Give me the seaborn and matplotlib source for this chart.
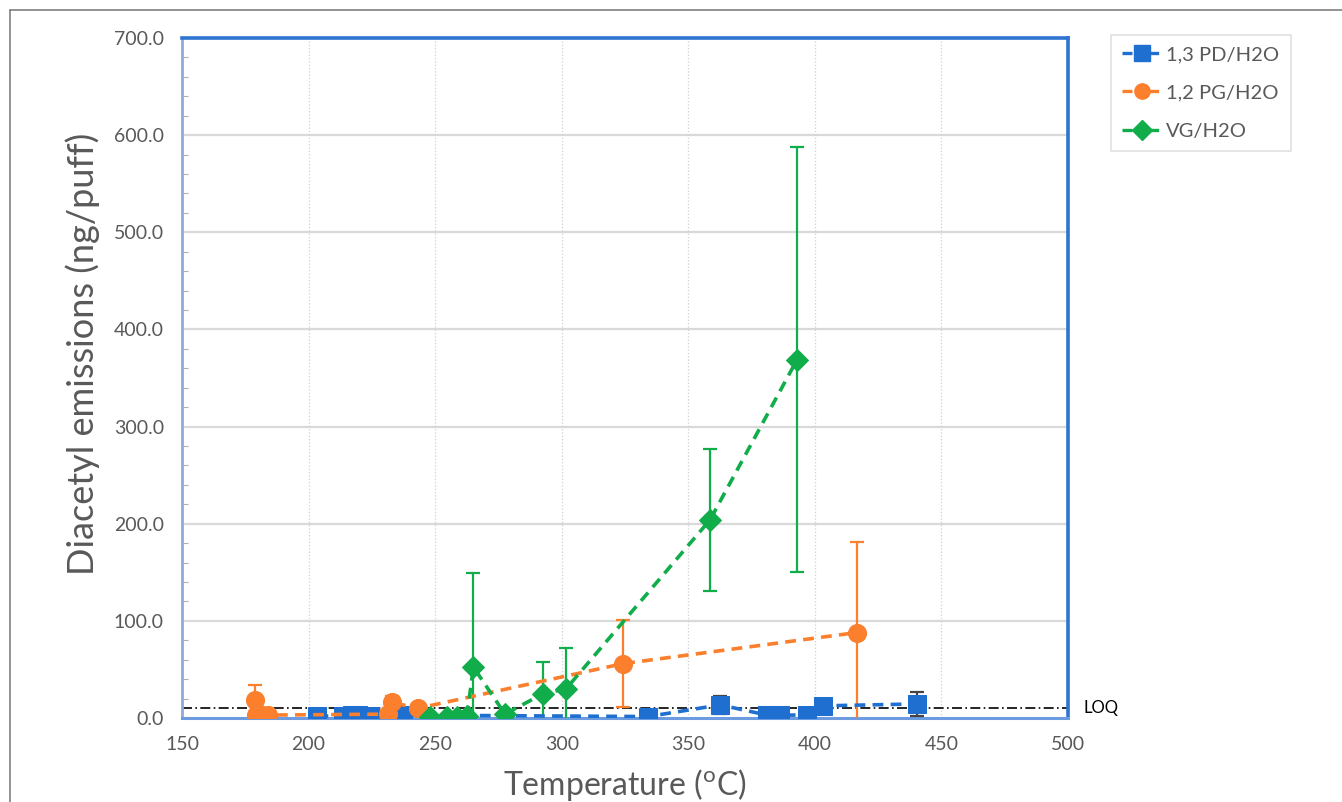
import numpy as np
import pandas as pd
import matplotlib.pyplot as plt
import seaborn as sns
from matplotlib.lines import Line2D
from matplotlib.ticker import MultipleLocator

# data (temperature in C, diacetyl in ng/puff)
pd_temp = [203.5, 213.6, 217.2, 219.5, 224.3, 237.3, 334.1, 362.6, 381.1, 386.3, 396.9, 403.3, 440.4]
pd_val = [2.0, 2.0, 3.0, 3.0, 2.0, 3.0, 1.5, 13.5, 3.0, 3.0, 3.0, 12.5, 14.5]
pd_err = [1.0, 1.0, 1.0, 1.0, 1.0, 1.0, 1.0, 9.0, 1.0, 1.0, 1.0, 2.0, 12.0]

pg_temp = [179.0, 179.2, 181.5, 184.0, 231.5, 233.0, 243.2, 324.3, 416.7]
pg_val = [18.5, 3.0, 3.0, 3.0, 4.0, 16.0, 10.0, 56.0, 88.0]
pg_err = [15.5, 1.0, 1.0, 1.0, 1.0, 7.0, 1.0, 45.0, 93.0]

vg_temp = [248.0, 254.7, 258.6, 262.6, 265.1, 277.6, 292.6, 301.7, 358.6, 393.0]
vg_val = [1.5, 1.5, 1.5, 2.5, 52.5, 4.0, 25.0, 30.0, 204.0, 369.0]
vg_err = [1.0, 1.0, 1.0, 1.0, 97.0, 1.0, 33.0, 42.0, 73.0, 219.0]

loq = 10.0

series = [
    ("1,3 PD/H2O", pd_temp, pd_val, pd_err, "#1f6fd0", "s", "#444444"),
    ("1,2 PG/H2O", pg_temp, pg_val, pg_err, "#fb7f2c", "o", "#fb7f2c"),
    ("VG/H2O", vg_temp, vg_val, vg_err, "#10ad4a", "D", "#10ad4a"),
]

sns.set_theme(style="white")
plt.rcParams['font.family'] = ['Lato', 'DejaVu Sans']
plt.rcParams['mathtext.fontset'] = 'custom'
plt.rcParams['mathtext.rm'] = 'Lato'
grey = "#595959"

fig = plt.figure(figsize=(13.42, 8.02), dpi=100)
ax = fig.add_axes([182 / 1342, 1 - 718 / 802, (1068 - 182) / 1342, (718 - 38) / 802])

handles = []
for name, xs, ys, es, col, mk, ecol in series:
    df = pd.DataFrame({"temp": xs, "val": ys})
    # error bars first so the markers sit on top
    ax.errorbar(xs, ys, yerr=es, fmt="none", ecolor=ecol, elinewidth=1.6,
                capsize=5, capthick=1.6, zorder=3)
    sns.lineplot(data=df, x="temp", y="val", ax=ax, sort=False, estimator=None,
                 color=col, linewidth=2.6, dashes=(3, 2), marker=mk,
                 markersize=13 if mk != "D" else 11.5, markeredgecolor=col,
                 zorder=4, legend=False)
    handles.append(Line2D([0], [0], color=col, linewidth=2.4, dashes=(3.0, 5.0),
                          marker=mk, markersize=11 if mk != "D" else 10,
                          markeredgecolor=col, label=name))

# LOQ line
ax.axhline(loq, color="black", linewidth=1.2, dashes=(6, 2, 1, 2), zorder=2)
ax.text(506, loq, "LOQ", fontsize=12, color="black", va="center", ha="left",
        clip_on=False)

ax.set_xlim(150, 500)
ax.set_ylim(0, 700)
ax.set_xticks(np.arange(150, 501, 50))
ax.set_yticks(np.arange(0, 701, 100))
ax.set_yticklabels([f"{v:.1f}" for v in np.arange(0, 701, 100)])
ax.yaxis.set_minor_locator(MultipleLocator(20))
ax.tick_params(axis="both", which="major", length=0, labelsize=14, labelcolor=grey, pad=13)
ax.tick_params(axis="y", which="minor", left=True, length=4, width=0.8,
               color="#b0b0b0", direction="in")

# gridlines: solid horizontal, dotted vertical
for v in range(100, 700, 100):
    ax.axhline(v, color="#d9d9d9", linewidth=1.6, zorder=0)
for v in range(200, 500, 50):
    ax.axvline(v, color="#d0d0d0", linewidth=0.9, linestyle=":", zorder=0)

ax.spines["top"].set_color("#2e74d0")
ax.spines["right"].set_color("#2e74d0")
ax.spines["top"].set_linewidth(2.6)
ax.spines["right"].set_linewidth(2.6)
ax.spines["left"].set_color("#8eaadb")
ax.spines["left"].set_linewidth(2.0)
ax.spines["bottom"].set_color("#6c9be0")
ax.spines["bottom"].set_linewidth(2.2)

ax.set_xlabel(r"Temperature ($^{\mathrm{o}}$C)", fontsize=23, color=grey, labelpad=10)
ax.set_ylabel("Diacetyl emissions (ng/puff)", fontsize=26, color=grey)
ax.yaxis.set_label_coords(-0.092, 0.535)

leg = fig.legend(handles=handles, loc="upper left",
                 bbox_to_anchor=(1111 / 1342, 1 - 35 / 802),
                 fontsize=14.5, frameon=True, fancybox=False, handlelength=2.0,
                 handletextpad=0.2, labelspacing=1.05, borderpad=0.55,
                 borderaxespad=0, labelcolor=grey)
leg.get_frame().set_edgecolor("#d9d9d9")
leg.get_frame().set_linewidth(1.2)

# outer chart border (only top and left visible in the reference)
fig.add_artist(Line2D([10 / 1342, 1], [1 - 10 / 802] * 2, color="#7f7f7f", linewidth=1.2))
fig.add_artist(Line2D([10 / 1342] * 2, [0, 1 - 10 / 802], color="#7f7f7f", linewidth=1.2))

fig.savefig("out.png", dpi=100)
